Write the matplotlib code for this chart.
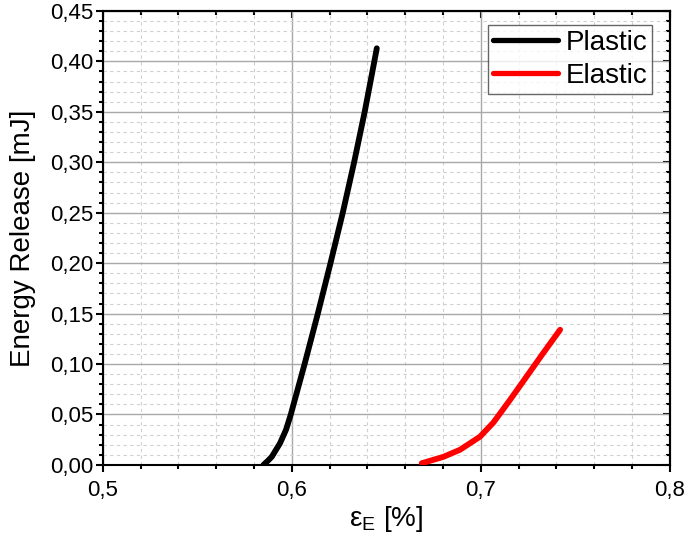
import matplotlib
matplotlib.use("Agg")
import matplotlib.pyplot as plt
from matplotlib.ticker import MultipleLocator, FuncFormatter

plt.rcParams['font.family'] = ['Liberation Sans', 'DejaVu Sans']

# Data
plastic_x = [0.585, 0.5873, 0.5894, 0.5938, 0.5970, 0.5995, 0.6068, 0.6138, 0.6205, 0.6270, 0.6330, 0.6386, 0.6437, 0.6450]
plastic_y = [0.000, 0.004, 0.008, 0.0215, 0.035, 0.050, 0.100, 0.150, 0.200, 0.250, 0.300, 0.350, 0.400, 0.413]

elastic_x = [0.6688, 0.6802, 0.689, 0.6996, 0.7067, 0.7155, 0.7243, 0.7331, 0.742]
elastic_y = [0.0017, 0.008, 0.015, 0.028, 0.042, 0.0645, 0.0877, 0.111, 0.134]

series_labels = ["Plastic", "Elastic"]
x_ticks = [0.5, 0.6, 0.7, 0.8]
y_ticks = [0.00, 0.05, 0.10, 0.15, 0.20, 0.25, 0.30, 0.35, 0.40, 0.45]

fig = plt.figure(figsize=(6.85, 5.4), dpi=100)
ax = fig.add_axes([0.15, 0.139, 0.8277, 0.8407])

LW = 4.2
ax.plot(plastic_x, plastic_y, color='black', lw=LW, label=series_labels[0], zorder=3,
        solid_capstyle='round', solid_joinstyle='round')
ax.plot(elastic_x, elastic_y, color='#ff0000', lw=LW, label=series_labels[1], zorder=3,
        solid_capstyle='round', solid_joinstyle='round')

ax.set_xlim(0.5, 0.8)
ax.set_ylim(0.0, 0.45)
ax.set_xticks(x_ticks)
ax.set_yticks(y_ticks)
ax.xaxis.set_minor_locator(MultipleLocator(0.02))
ax.yaxis.set_minor_locator(MultipleLocator(0.01))
ax.xaxis.set_major_formatter(FuncFormatter(lambda v, p: f"{v:.1f}".replace('.', ',')))
ax.yaxis.set_major_formatter(FuncFormatter(lambda v, p: f"{v:.2f}".replace('.', ',')))

ax.grid(which='major', color='#a8a8a8', lw=1.0, ls='-', zorder=1)
ax.grid(which='minor', color='#d0d0d0', lw=0.8, ls=(0, (3, 3)), zorder=1)
ax.set_axisbelow(True)

ax.tick_params(which='both', direction='out', labelsize=16, width=1.5, colors='black')
ax.tick_params(which='major', length=5)
ax.tick_params(which='minor', length=3)
ax.tick_params(axis='x', which='both', pad=6)
ax.tick_params(axis='y', which='both', pad=2)
for s in ax.spines.values():
    s.set_linewidth(1.5)

# top and right inward ticks
secx = ax.secondary_xaxis('top')
secx.set_xticks(x_ticks)
secx.xaxis.set_minor_locator(MultipleLocator(0.02))
secx.tick_params(which='both', direction='in', labeltop=False, width=1.5)
secx.tick_params(which='major', length=5)
secx.tick_params(which='minor', length=3)
secy = ax.secondary_yaxis('right')
secy.set_yticks(y_ticks)
secy.yaxis.set_minor_locator(MultipleLocator(0.01))
secy.tick_params(which='both', direction='in', labelright=False, width=1.5)
secy.tick_params(which='major', length=5)
secy.tick_params(which='minor', length=3)
secx.spines['top'].set_linewidth(1.5)
secy.spines['right'].set_linewidth(1.5)

ax.set_xlabel(r"$\mathregular{\varepsilon_E}$ [%]", fontsize=20, labelpad=2)
ax.set_ylabel("Energy Release [mJ]", fontsize=20, labelpad=10)

leg = ax.legend(loc='upper right', bbox_to_anchor=(0.9688, 0.969), fontsize=20,
                frameon=True, fancybox=False, edgecolor='#404040',
                handlelength=2.35, borderpad=0.18, labelspacing=0.25,
                handletextpad=0.25, borderaxespad=0.0)
leg.get_frame().set_linewidth(1.0)
for line in leg.get_lines():
    line.set_linewidth(3.8)

fig.savefig("out.png", dpi=100)
